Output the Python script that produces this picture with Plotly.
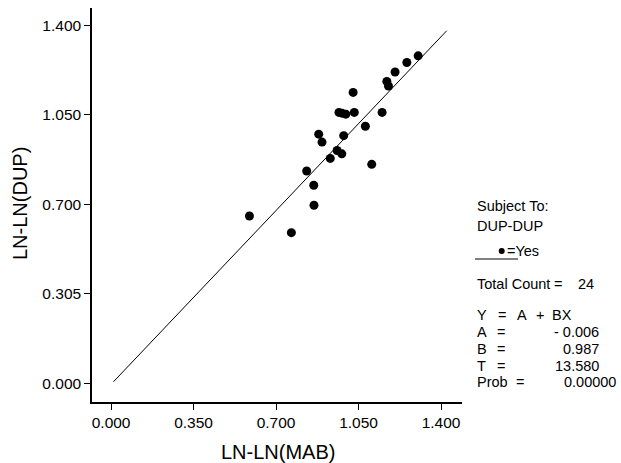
import plotly.graph_objects as go

# ---- data ----
mab = [0.587, 0.765, 0.830, 0.860, 0.861, 0.881, 0.895, 0.930, 0.959, 0.979,
       0.967, 0.996, 0.980, 0.987, 1.027, 1.032, 1.079, 1.106, 1.150, 1.170,
       1.177, 1.205, 1.255, 1.303]
dup = [0.654, 0.589, 0.830, 0.774, 0.696, 0.974, 0.943, 0.879, 0.910, 0.897,
       1.059, 1.052, 1.056, 0.968, 1.137, 1.059, 1.005, 0.856, 1.059, 1.180,
       1.162, 1.217, 1.254, 1.280]
fit_x = [0.010, 1.424]
fit_y = [0.006, 1.378]

tick_vals = [0.0, 0.35, 0.70, 1.05, 1.40]
x_tick_text = ["0.000", "0.350", "0.700", "1.050", "1.400"]
y_tick_text = ["0.000", "0.305", "0.700", "1.050", "1.400"]

stat_labels = ["A", "B", "T", "Prob"]
stat_values = ["- 0.006", "0.987", "13.580", "0.00000"]
total_count = 24

FONT = "Liberation Sans, Arial, Helvetica, sans-serif"
W, H = 621, 463
L, R, T, B = 92, 159, 8, 61
PW, PH = W - L - R, H - T - B


def px(x):
    return (x - L) / PW


def py(y):
    return (H - B - y) / PH


fig = go.Figure()
fig.add_trace(go.Scatter(x=fit_x, y=fit_y, mode="lines",
                         line=dict(color="black", width=1), hoverinfo="skip"))
fig.add_trace(go.Scatter(x=mab, y=dup, mode="markers",
                         marker=dict(color="black", size=9)))

ax = dict(showgrid=False, zeroline=False, showline=True, linecolor="black",
          linewidth=1.5, ticks="outside", ticklen=6, tickwidth=1,
          tickcolor="black", tickvals=tick_vals,
          tickfont=dict(family=FONT, size=15.5, color="black"))

fig.update_layout(
    width=W, height=H, margin=dict(l=L, r=R, t=T, b=B),
    paper_bgcolor="white", plot_bgcolor="white", showlegend=False,
    xaxis=dict(**ax, range=[-0.081, 1.489], ticktext=x_tick_text),
    yaxis=dict(**ax, range=[-0.073, 1.467], ticktext=y_tick_text),
)

ann = []
# axis titles
ann.append(dict(x=px(278), y=py(452), text="LN-LN(MAB)", showarrow=False,
                xref="paper", yref="paper", xanchor="center", yanchor="middle",
                font=dict(family=FONT, size=20, color="black")))
ann.append(dict(x=px(20), y=py(204), text="LN-LN(DUP)", showarrow=False,
                xref="paper", yref="paper", xanchor="center", yanchor="middle",
                textangle=-90, font=dict(family=FONT, size=20, color="black")))

FS = 14.5


def txt(x, y, s, anchor="left"):
    ann.append(dict(x=px(x), y=py(y), text=s, showarrow=False, xref="paper",
                    yref="paper", xanchor=anchor, yanchor="middle",
                    font=dict(family=FONT, size=FS, color="black")))


txt(475, 206, "Subject To:")
txt(475, 226, "DUP-DUP")
txt(505, 251, "=Yes")
txt(475, 284, "Total Count")
txt(558, 284, "=", "center")
txt(576, 284, str(total_count))
# regression formula
txt(475, 315, "Y")
txt(502, 315, "=", "center")
txt(522, 315, "A", "center")
txt(540, 315, "+", "center")
txt(550, 315, "BX")
ys = [332, 349, 366, 382]
eq_x = [501, 501, 501, 520]
for lab, val, yy, ex in zip(stat_labels, stat_values, ys, eq_x):
    txt(475, yy, lab)
    txt(ex, yy, "=", "center")
    right = 618 if len(val.split(".")[-1]) == 5 else 601
    txt(right, yy, val.replace(" ", "&nbsp;"), anchor="right")

fig.update_layout(annotations=ann)
fig.add_shape(type="line", xref="paper", yref="paper",
              x0=px(475), x1=px(518), y0=py(259), y1=py(259),
              line=dict(color="black", width=1))
fig.add_shape(type="circle", xref="paper", yref="paper",
              x0=px(498.7), x1=px(504.7), y0=py(248), y1=py(254),
              fillcolor="black", line=dict(color="black", width=0))

fig.write_html("out.html")
